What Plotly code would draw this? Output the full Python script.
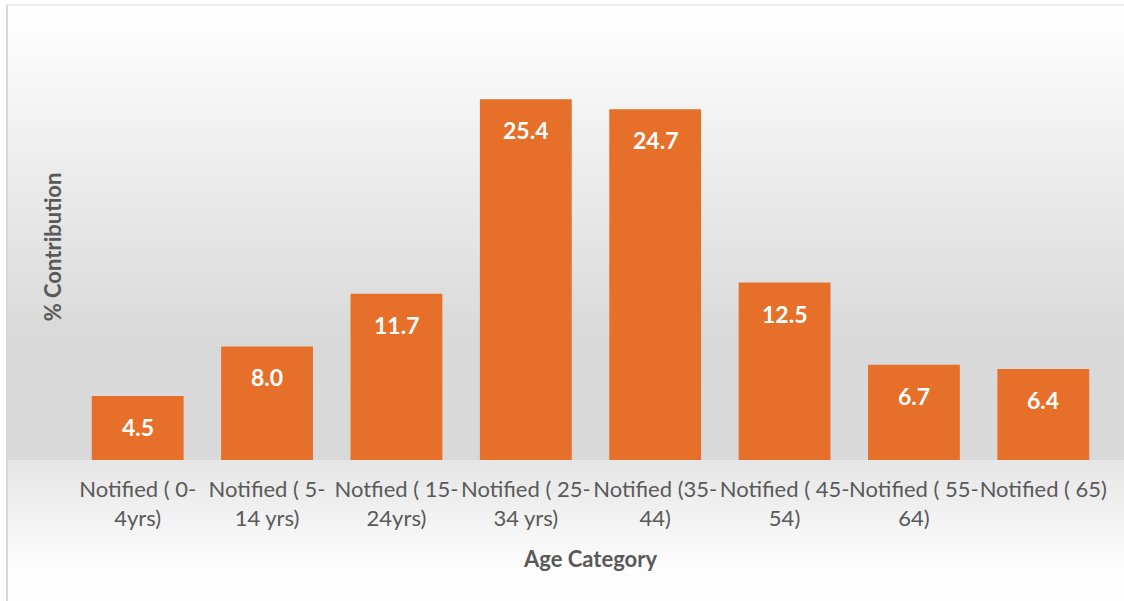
import plotly.graph_objects as go

categories = ["Notified ( 0-<br>4yrs)", "Notified ( 5-<br>14 yrs)", "Notfied ( 15-<br>24yrs)",
              "Notified ( 25-<br>34 yrs)", "Notified (35-<br>44)", "Notified ( 45-<br>54)",
              "Notified ( 55-<br>64)", "Notified ( 65)"]
values = [4.5, 8.0, 11.7, 25.4, 24.7, 12.5, 6.7, 6.4]
x_title = "Age Category"
y_title = "% Contribution"

W, H = 1124, 601
ML, MR, MT, MB = 73, 16, 34, 141
PW, PH = W - ML - MR, H - MT - MB

def px_to_paper_x(px):
    return (px - ML) / PW

def px_to_paper_y(py):
    return (H - MB - py) / PH

shapes = []
# upper background gradient
n = 90
top, bot = 5, 460
for i in range(n):
    y0 = top + (bot - top) * i / n
    y1 = top + (bot - top) * (i + 1) / n
    t = min(1.0, (y0 - top) / 330)
    g = int(round(255 - (255 - 217) * t))
    shapes.append(dict(type="rect", xref="paper", yref="paper", layer="below",
                       x0=px_to_paper_x(7), x1=px_to_paper_x(W),
                       y0=px_to_paper_y(y1 + 0.5), y1=px_to_paper_y(y0),
                       line=dict(width=0), fillcolor=f"rgb({g},{g},{g})"))
# floor gradient
n2 = 40
ftop, fbot = 460, 601
for i in range(n2):
    y0 = ftop + (fbot - ftop) * i / n2
    y1 = ftop + (fbot - ftop) * (i + 1) / n2
    t = min(1.0, (y0 - ftop) / 110)
    g = int(round(230 + (254 - 230) * t))
    shapes.append(dict(type="rect", xref="paper", yref="paper", layer="below",
                       x0=px_to_paper_x(7), x1=px_to_paper_x(W),
                       y0=px_to_paper_y(y1 + 0.5), y1=px_to_paper_y(y0),
                       line=dict(width=0), fillcolor=f"rgb({g},{g},{g})"))
# border lines
shapes.append(dict(type="line", xref="paper", yref="paper",
                   x0=px_to_paper_x(7), x1=px_to_paper_x(7),
                   y0=px_to_paper_y(H), y1=px_to_paper_y(5),
                   line=dict(color="#d9d9d9", width=2)))
shapes.append(dict(type="line", xref="paper", yref="paper",
                   x0=px_to_paper_x(6), x1=px_to_paper_x(W),
                   y0=px_to_paper_y(5), y1=px_to_paper_y(5),
                   line=dict(color="#d9d9d9", width=1)))

fig = go.Figure()
fig.add_trace(go.Bar(x=categories, y=values, marker=dict(color="#E6702A", line=dict(width=0)),
                     hoverinfo="x+y"))

annotations = []
for c, v in zip(categories, values):
    annotations.append(dict(x=c, y=v, xref="x", yref="y", text=f"<b>{v:.1f}</b>",
                            showarrow=False, yshift=-31,
                            font=dict(family="Lato", size=23, color="white")))

fig.update_layout(
    width=W, height=H,
    margin=dict(l=ML, r=MR, t=MT, b=MB),
    paper_bgcolor="white", plot_bgcolor="rgba(0,0,0,0)",
    bargap=0.29,
    showlegend=False,
    shapes=shapes,
    annotations=annotations,
    font=dict(family="Lato", color="#595959"),
    xaxis=dict(showgrid=False, zeroline=False, showline=False, ticks="",
               tickangle=0, automargin=False,
               tickfont=dict(family="Lato", size=22, color="#595959"),
               ticklabelstandoff=14,
               title=dict(text=f"<b>{x_title}</b>", font=dict(family="Lato", size=22, color="#595959"),
                          standoff=22)),
    yaxis=dict(range=[0, 30], showgrid=False, zeroline=False, showline=False,
               showticklabels=False, ticks="", automargin=False,
               title=dict(text=f"<b>{y_title}</b>", font=dict(family="Lato", size=22, color="#595959"),
                          standoff=4)),
)

fig.write_html("out.html")
